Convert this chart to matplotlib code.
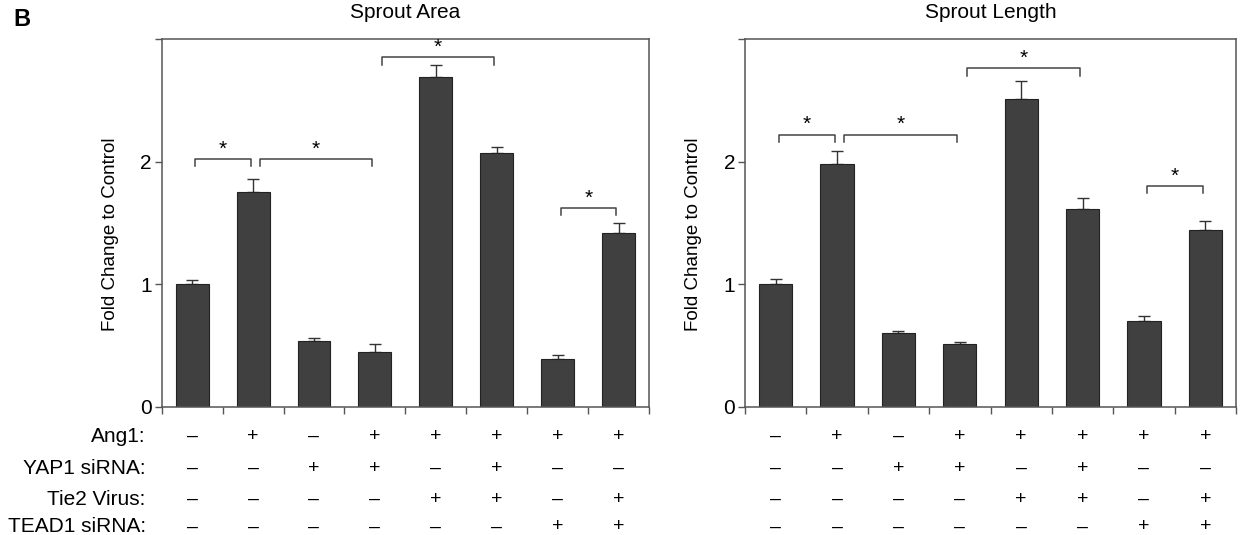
import numpy as np
import matplotlib
matplotlib.use("Agg")
import matplotlib.pyplot as plt

plt.rcParams['font.family'] = ['Liberation Sans', 'DejaVu Sans']

# values
conditions = ["Ang1:", "YAP1 siRNA:", "Tie2 Virus:", "TEAD1 siRNA:"]
design = [
    ["-", "+", "-", "+", "+", "+", "+", "+"],
    ["-", "-", "+", "+", "-", "+", "-", "-"],
    ["-", "-", "-", "-", "+", "+", "-", "+"],
    ["-", "-", "-", "-", "-", "-", "+", "+"],
]
area_mean = [1.00, 1.75, 0.54, 0.45, 2.69, 2.07, 0.39, 1.42]
area_err = [0.035, 0.105, 0.02, 0.06, 0.10, 0.05, 0.03, 0.08]
length_mean = [1.00, 1.98, 0.60, 0.51, 2.51, 1.61, 0.70, 1.44]
length_err = [0.04, 0.11, 0.02, 0.02, 0.145, 0.095, 0.04, 0.075]
# significance brackets: (bar a, bar b, height)
area_sig = [(0, 1, 2.02), (1, 3, 2.02), (3, 5, 2.85), (6, 7, 1.62)]
length_sig = [(0, 1, 2.22), (1, 3, 2.22), (3, 5, 2.76), (6, 7, 1.80)]

W, H = 1242, 535
fig = plt.figure(figsize=(W / 100, H / 100), dpi=100)

ax_h = (406.7 - 39) / H
ax_y = 1 - 406.7 / H
ax1 = fig.add_axes([161.7 / W, ax_y, (649 - 161.7) / W, ax_h])
ax2 = fig.add_axes([745 / W, ax_y, (1236 - 745) / W, ax_h])

spine_col = "#555555"
bar_col = "#404040"
row_y = [-0.080, -0.167, -0.253, -0.327]


def panel(ax, title, mean, err, sig, show_names):
    x = np.arange(len(mean)) + 0.5
    ax.bar(x, mean, width=0.54, color=bar_col, edgecolor="#222222",
           linewidth=0.8, zorder=2)
    ax.errorbar(x, mean, yerr=[np.zeros(len(err)), err], fmt="none",
                ecolor="#333333", elinewidth=1.0, capsize=4.5,
                capthick=1.0, zorder=1)
    ax.set_xlim(0, len(mean))
    ax.set_ylim(0, 3)
    ax.set_xticks(np.arange(len(mean) + 1))
    ax.set_xticklabels([])
    ax.set_yticks([0, 1, 2, 3])
    ax.set_yticklabels(["0", "1", "2", ""])
    ax.tick_params(direction="out", length=5, width=1.0, color=spine_col,
                   labelsize=15, pad=2)
    for s in ax.spines.values():
        s.set_color(spine_col)
        s.set_linewidth(1.1)
    ax.set_ylabel("Fold Change to Control", fontsize=13.5)
    ax.yaxis.set_label_coords(-0.088, 0.47)
    ax.text(0.5, 1.072, title, transform=ax.transAxes, ha="center",
            va="center", fontsize=15)

    prev_end = None
    for a, b, y in sig:
        x0 = a + 0.5 + 0.05
        if prev_end == a:
            x0 += 0.06
        x1 = b + 0.5 - 0.04
        ax.plot([x0, x0, x1, x1], [y - 0.06, y, y, y - 0.06],
                color="#444444", lw=1.1, clip_on=False)
        ax.text((x0 + x1) / 2, y + 0.08, "*", ha="center", va="center",
                fontsize=15)
        prev_end = b

    tr = ax.get_xaxis_transform()
    for r, row in enumerate(design):
        for i, s in enumerate(row):
            ax.text(i + 0.5, row_y[r], "+" if s == "+" else "\u2013",
                    transform=tr, ha="center", va="center", fontsize=14)
        if show_names:
            ax.text(-0.26, row_y[r], conditions[r], transform=tr,
                    ha="right", va="center", fontsize=15)


panel(ax1, "Sprout Area", area_mean, area_err, area_sig, True)
panel(ax2, "Sprout Length", length_mean, length_err, length_sig, False)

fig.text(22 / W, 1 - 20 / H, "B", fontsize=17, fontweight="bold",
         ha="center", va="center")

fig.savefig("out.png", dpi=100)
